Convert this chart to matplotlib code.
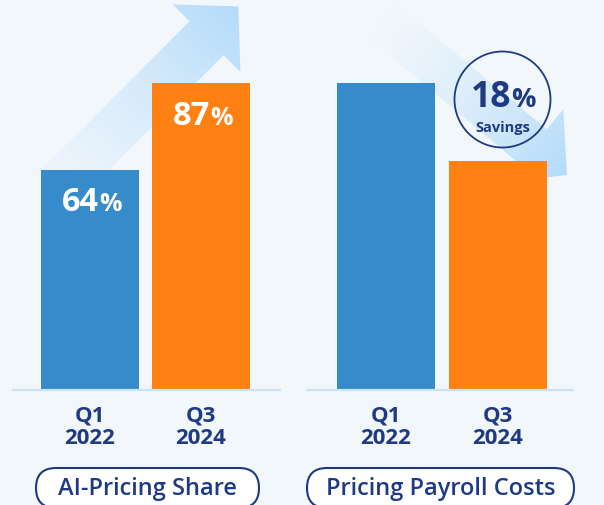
import numpy as np
import matplotlib.pyplot as plt
from matplotlib.colors import to_rgb
from matplotlib.patches import Polygon, Circle, FancyBboxPatch

plt.rcParams["font.family"] = ["Open Sans", "DejaVu Sans"]

# ---- data ----
periods = ["Q1\n2022", "Q3\n2024"]
ai_share = [64, 87]            # % of pricing done with AI
payroll_idx = [100, 82]        # payroll cost index (Q1 2022 = 100)
savings_pct = 18
panel_titles = ["AI-Pricing Share", "Pricing Payroll Costs"]

# ---- style ----
W, H = 604, 505
BG = "#F2F7FC"
BLUE = "#368CCB"
ORANGE = "#FF8114"
NAVY = "#1F3A85"
BASE = "#CFE2F2"
ARROW = "#B3DBFA"

fig = plt.figure(figsize=(W / 100, H / 100), dpi=100, facecolor=BG)
renderer = fig.canvas.get_renderer()

# background layer in pixel coords (y down) for decorations
bg = fig.add_axes([0, 0, 1, 1], zorder=0)
bg.set_facecolor(BG)
bg.axis("off")

yy, xx = np.mgrid[0:H, 0:W] + 0.5


def draw_arrow(tail, tip, sw, hw, hl, a0, a1):
    tail = np.asarray(tail, float)
    tip = np.asarray(tip, float)
    d = tip - tail
    L = np.hypot(*d)
    u = d / L
    n = np.array([-u[1], u[0]])
    base = tip - u * hl
    pts = [tail + n * sw / 2, base + n * sw / 2, base + n * hw / 2, tip,
           base - n * hw / 2, base - n * sw / 2, tail - n * sw / 2]
    poly = Polygon(pts, closed=True, fc="none", ec="none")
    bg.add_patch(poly)
    t = np.clip(((xx - tail[0]) * u[0] + (yy - tail[1]) * u[1]) / L, 0, 1)
    rgba = np.zeros((H, W, 4))
    rgba[..., :3] = to_rgb(ARROW)
    rgba[..., 3] = a0 + (a1 - a0) * t ** 1.4
    im = bg.imshow(rgba, extent=(0, W, H, 0), interpolation="bilinear",
                   aspect="auto", zorder=1)
    im.set_clip_path(poly)


# growth arrow (left) and savings arrow (right)
draw_arrow((55, 190), (238.3, 6.4), 48, 96, 45, 0.08, 1.0)
draw_arrow((378.5, 17.5), (567, 175), 44, 96, 45, 0.0, 1.0)

bg.set_xlim(0, W)
bg.set_ylim(H, 0)


def pct_text(ax, x, y, num, size, pct_size, color, dy, dx=0):
    kw = dict(textcoords="offset pixels", ha="left", va="baseline",
              color=color, fontweight="bold", zorder=5)
    t1 = ax.annotate(num, (x, y), xytext=(0, dy), fontsize=size, **kw)
    t2 = ax.annotate("%", (x, y), xytext=(0, dy), fontsize=pct_size, **kw)
    w1 = t1.get_window_extent(renderer).width
    w2 = t2.get_window_extent(renderer).width
    start = dx - (w1 + w2) / 2
    t1.xyann = (start, dy)
    t2.xyann = (start + w1, dy)


# savings badge
bg.add_patch(Circle((502.5, 99.5), 48, fill=False, ec=NAVY, lw=1.3, zorder=3))
pct_text(bg, 502.5, 99.5, str(savings_pct), 25.5, 19.5, NAVY, -7.5, 1)
bg.text(502.5, 131.7, "Savings", ha="center", va="baseline", fontsize=10.5,
        fontweight="bold", color=NAVY, zorder=5)

# pill labels under panels
for (x0, x1), title in zip([(36, 259), (307, 574)], panel_titles):
    bg.add_patch(FancyBboxPatch((x0, 468), x1 - x0, 40,
                                boxstyle="round,pad=0,rounding_size=20",
                                fc="white", ec=NAVY, lw=1.5, zorder=3))
    bg.text((x0 + x1) / 2, 489, title, ha="center", va="center",
            fontsize=17, fontweight="semibold", color=NAVY, zorder=5)


def panel(left, right, vals, ylim, xlim):
    ax = fig.add_axes([left / W, (H - 390) / H, (right - left) / W, 307 / H],
                      zorder=2)
    ax.patch.set_visible(False)
    bars = ax.bar([0, 1], vals, width=0.883, color=[BLUE, ORANGE], zorder=2)
    ax.set_ylim(*ylim)
    ax.set_xlim(*xlim)
    for s in ["top", "right", "left"]:
        ax.spines[s].set_visible(False)
    ax.spines["bottom"].set_color(BASE)
    ax.spines["bottom"].set_linewidth(1.6)
    ax.set_yticks([])
    ax.set_xticks([0, 1], periods)
    ax.tick_params(axis="x", length=0, pad=11, labelsize=16, labelcolor=NAVY)
    for lbl in ax.get_xticklabels():
        lbl.set_fontweight("bold")
        lbl.set_linespacing(1.12)
    return ax, bars


ax1, bars1 = panel(13, 280, ai_share, (5.8, 87), (-0.694, 1.712))
ax2, bars2 = panel(307, 573, payroll_idx, (29.2, 100), (-0.705, 1.67))

for b, v in zip(bars1, ai_share):
    pct_text(ax1, b.get_x() + b.get_width() / 2, v, str(v), 23.5, 18,
             "white", -41.5, 2)

fig.savefig("out.png", dpi=100, facecolor=BG)
